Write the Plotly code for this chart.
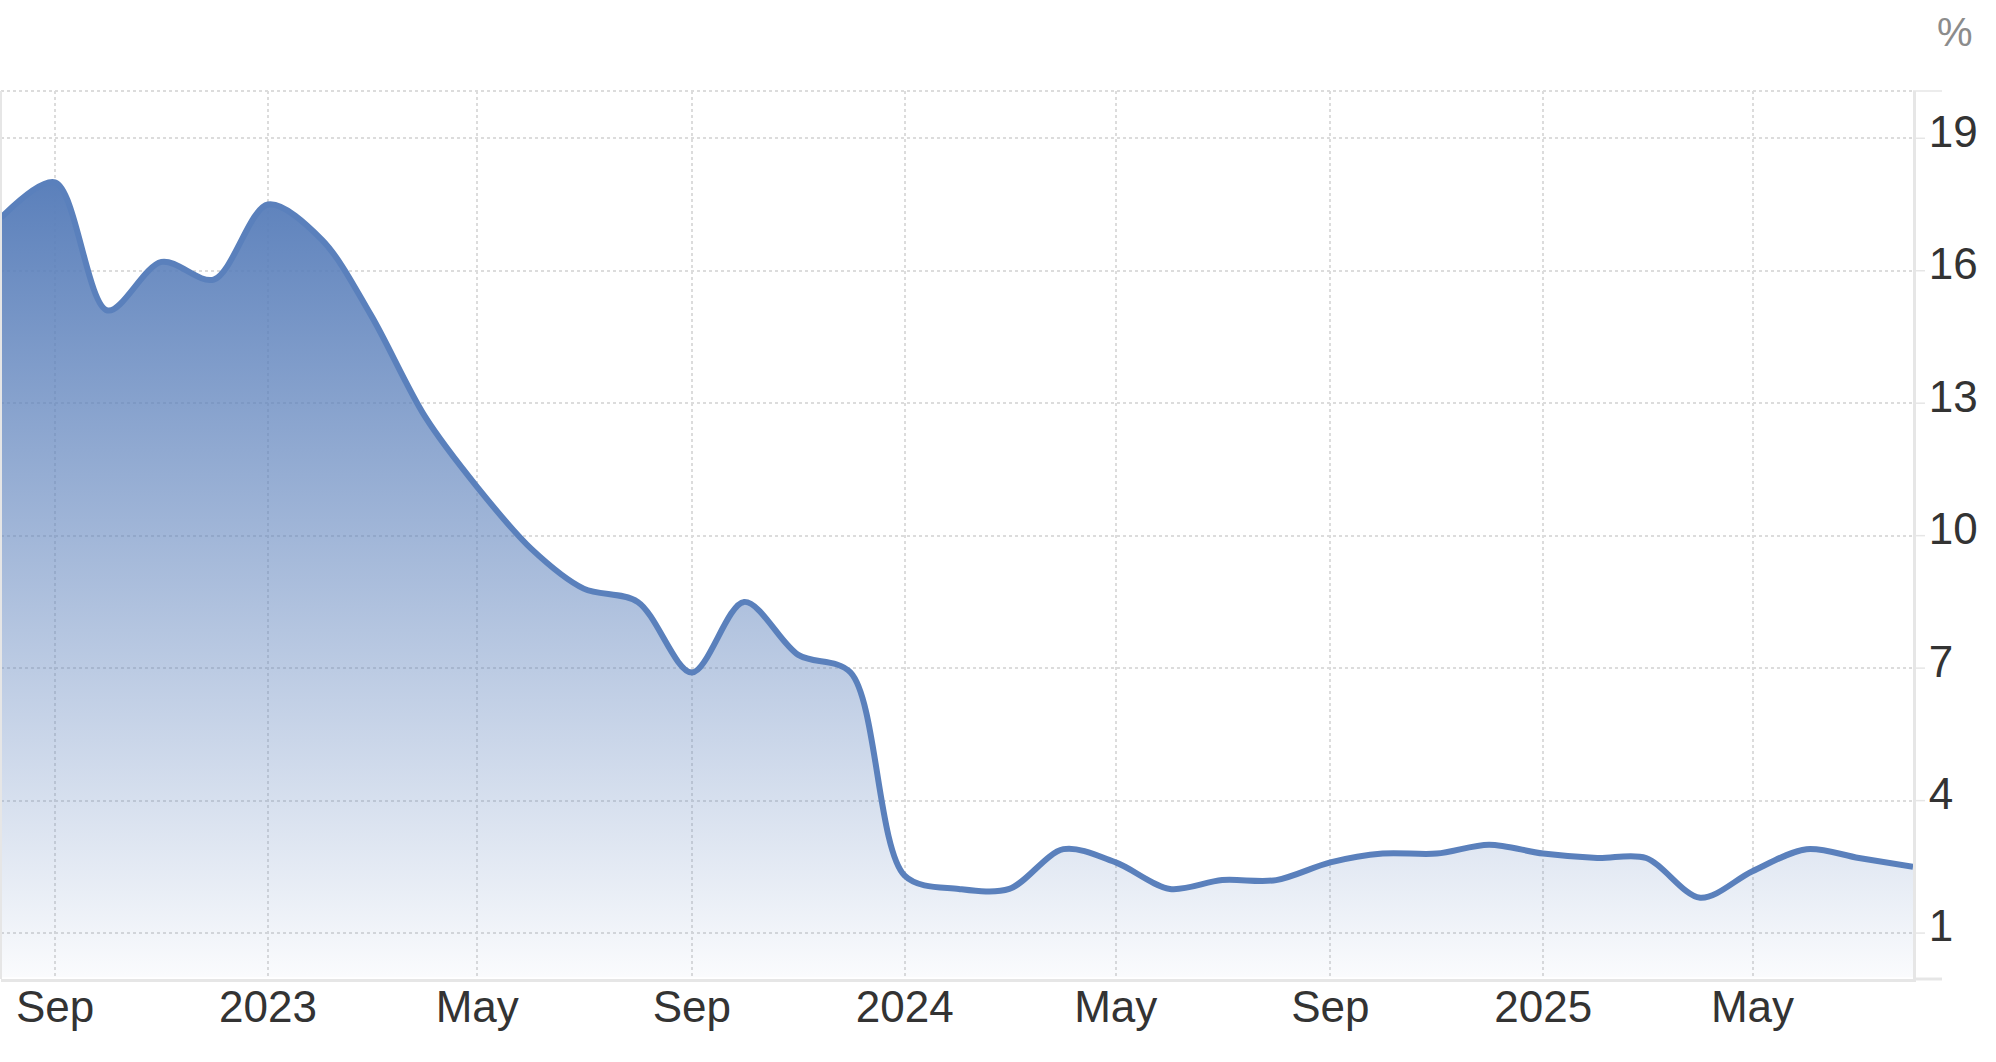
import plotly.graph_objects as go

# ---- data ----
months = [
    "2022-08-01", "2022-09-01", "2022-10-01", "2022-11-01", "2022-12-01",
    "2023-01-01", "2023-02-01", "2023-03-01", "2023-04-01", "2023-05-01",
    "2023-06-01", "2023-07-01", "2023-08-01", "2023-09-01", "2023-10-01",
    "2023-11-01", "2023-12-01", "2024-01-01", "2024-02-01", "2024-03-01",
    "2024-04-01", "2024-05-01", "2024-06-01", "2024-07-01", "2024-08-01",
    "2024-09-01", "2024-10-01", "2024-11-01", "2024-12-01", "2025-01-01",
    "2025-02-01", "2025-03-01", "2025-04-01", "2025-05-01", "2025-06-01",
    "2025-07-01", "2025-08-01",
]
inflation = [
    17.2, 18.0, 15.1, 16.2, 15.8,
    17.5, 16.7, 15.0, 12.7, 11.1,
    9.7, 8.8, 8.5, 6.9, 8.5,
    7.3, 6.9, 2.3, 2.0, 2.0,
    2.9, 2.6, 2.0, 2.2, 2.2,
    2.6, 2.8, 2.8, 3.0, 2.8,
    2.7, 2.7, 1.8, 2.4, 2.9,
    2.7, 2.5,
]
x_tick_vals = ["2022-09-01", "2023-01-01", "2023-05-01", "2023-09-01", "2024-01-01",
               "2024-05-01", "2024-09-01", "2025-01-01", "2025-05-01"]
x_tick_text = ["Sep", "2023", "May", "Sep", "2024", "May", "Sep", "2025", "May"]
y_tick_vals = [1, 4, 7, 10, 13, 16, 19]
y_tick_text = ["1", "4", "7", "10", "13", "16", "19"]
unit_label = "%"

# ---- styling ----
W, H = 1996, 1062
ML, MR, MT, MB = 1, 83, 91, 83
LINE = "#5a80bc"
GRID = "#dcdcdc"
AXIS = "#e6e6e6"
FONT = "Liberation Sans, Arial, Helvetica, sans-serif"
Y_RANGE = [-0.04, 20.07]
X_RANGE = ["2022-08-01", "2025-08-01"]

fig = go.Figure()
fig.add_trace(go.Scatter(
    x=months, y=inflation, mode="lines",
    line=dict(color=LINE, width=6, shape="spline", smoothing=0.9),
    fill="tozeroy",
    fillgradient=dict(
        type="vertical",
        colorscale=[[0, "rgba(91,128,187,0.03)"],
                    [0.5, "rgba(91,128,187,0.52)"],
                    [1, "rgba(91,128,187,1.0)"]],
    ),
    hoverinfo="skip",
    showlegend=False,
))

PW = W - ML - MR
shapes = []
for v in y_tick_vals:
    shapes.append(dict(type="line", xref="paper", yref="y", x0=1, x1=1 + 12 / PW,
                       y0=v, y1=v, line=dict(color=AXIS, width=1.5), layer="above"))
for p in (0, 1):
    shapes.append(dict(type="line", xref="paper", yref="paper", x0=1, x1=1 + 29 / PW,
                       y0=p, y1=p, line=dict(color=AXIS, width=1.5 if p else 3), layer="above"))
# top dotted border
shapes.append(dict(type="line", xref="paper", yref="paper", x0=0, x1=1, y0=1, y1=1,
                   line=dict(color=GRID, width=2, dash="dot"), layer="below"))
# left border
shapes.append(dict(type="line", xref="paper", yref="paper", x0=0, x1=0, y0=0, y1=1,
                   line=dict(color=AXIS, width=2), layer="above"))

fig.update_layout(
    width=W, height=H,
    margin=dict(l=ML, r=MR, t=MT, b=MB, pad=0),
    paper_bgcolor="white", plot_bgcolor="white",
    font=dict(family=FONT, color="#333333", size=44),
    showlegend=False,
    shapes=shapes,
    annotations=[dict(text=unit_label, xref="paper", yref="paper",
                      x=1 + 42 / PW, y=1 + 59 / (H - MT - MB),
                      xanchor="center", yanchor="middle", showarrow=False,
                      font=dict(family=FONT, size=40, color="#8c8c8c"))],
    xaxis=dict(
        type="date", range=X_RANGE,
        tickmode="array", tickvals=x_tick_vals, ticktext=x_tick_text,
        showgrid=True, gridcolor=GRID, gridwidth=2, griddash="dot",
        showline=True, linecolor=AXIS, linewidth=3,
        ticks="", zeroline=False, ticklabelstandoff=-13,
        tickfont=dict(family=FONT, size=44, color="#333333"),
        fixedrange=True,
    ),
    yaxis=dict(
        side="right", range=Y_RANGE,
        tickmode="array", tickvals=y_tick_vals, ticktext=y_tick_text,
        showgrid=True, gridcolor=GRID, gridwidth=2, griddash="dot",
        showline=True, linecolor=AXIS, linewidth=3,
        ticks="", zeroline=False, ticklabelstandoff=4, ticklabelshift=-7,
        tickfont=dict(family=FONT, size=44, color="#333333"),
        fixedrange=True,
    ),
)

fig.write_html("out.html", config={"displayModeBar": False},
               post_script="document.body.style.margin='0';document.body.style.overflow='hidden';")
